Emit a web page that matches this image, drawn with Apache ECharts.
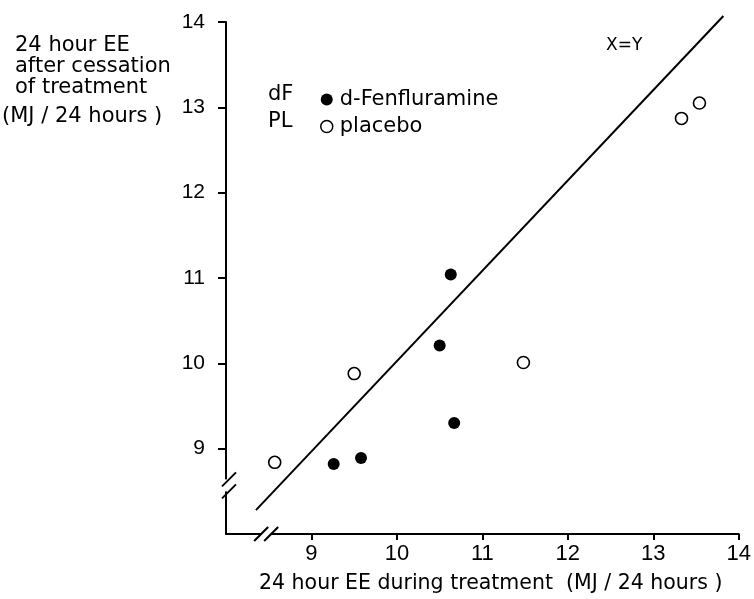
<!DOCTYPE html>
<html>
<head>
<meta charset="utf-8">
<script src="https://cdn.jsdelivr.net/npm/echarts@6/dist/echarts.min.js"></script>
<style>
html,body{margin:0;padding:0;background:#fff;}
#chart{width:754px;height:599px;}
</style>
</head>
<body>
<div id="chart"></div>
<script>
// ---- data ----
const xTicks = [9, 10, 11, 12, 13, 14];
const yTicks = [9, 10, 11, 12, 13, 14];
const dfX = [10.63, 10.50, 10.67, 9.26, 9.58];
const dfY = [11.04, 10.21, 9.30, 8.82, 8.89];
const plX = [8.57, 9.50, 11.48, 13.33, 13.54];
const plY = [8.84, 9.88, 10.01, 12.87, 13.05];
const lineX = [8.35, 13.82];
const lineY = [8.28, 14.07];
const seriesNames = ['d-Fenfluramine', 'placebo'];
const seriesCodes = ['dF', 'PL'];
const yTitle = ['24 hour EE', 'after cessation', 'of treatment', '(MJ / 24 hours )'];
const xTitle = '24 hour EE during treatment  (MJ / 24 hours )';
const lineLabel = 'X=Y';
const xBreak = 8.47, yBreak = 8.57;

const FONT = 'DejaVu Sans';
const TICKFONT = 'Liberation Sans';
const zip = (a, b) => a.map((v, i) => [v, b[i]]);

const chart = echarts.init(document.getElementById('chart'), null, {renderer: 'canvas'});
const axisCommon = {
  type: 'value', min: 8, max: 14, interval: 1,
  splitLine: {show: false},
  axisLine: {show: true, lineStyle: {color: '#000', width: 2}},
  axisTick: {show: true, customValues: xTicks, length: 6, lineStyle: {color: '#000', width: 2}},
  axisLabel: {customValues: xTicks, color: '#000', fontFamily: TICKFONT, fontSize: 21}
};
const option = {
  animation: false,
  backgroundColor: '#fff',
  grid: {left: 226, right: 9, top: 22, bottom: 65},
  xAxis: Object.assign({}, axisCommon, {
    axisLabel: Object.assign({}, axisCommon.axisLabel, {margin: 9, fontSize: 22})
  }),
  yAxis: Object.assign({}, axisCommon, {
    axisTick: Object.assign({}, axisCommon.axisTick, {customValues: yTicks, length: 8}),
    axisLabel: Object.assign({}, axisCommon.axisLabel, {customValues: yTicks, margin: 21})
  }),
  legend: {
    left: 315, top: 84, orient: 'vertical', itemGap: 6,
    itemWidth: 12, itemHeight: 12,
    textStyle: {color: '#000', fontFamily: FONT, fontSize: 21, padding: [0, 0, 0, 2]},
    data: [
      {name: seriesNames[0], icon: 'circle', itemStyle: {color: '#000', opacity: 1}},
      {name: seriesNames[1], icon: 'circle', itemStyle: {color: '#fff', borderColor: '#000', borderWidth: 1.5, opacity: 1}}
    ]
  },
  series: [
    {
      name: seriesNames[0], type: 'scatter', data: zip(dfX, dfY),
      symbol: 'circle', symbolSize: 12,
      itemStyle: {color: '#000', opacity: 1}
    },
    {
      name: seriesNames[1], type: 'scatter', data: zip(plX, plY),
      symbol: 'circle', symbolSize: 12,
      itemStyle: {color: '#fff', borderColor: '#000', borderWidth: 1.6, opacity: 1}
    },
    {
      name: lineLabel, type: 'line', data: zip(lineX, lineY),
      showSymbol: false, symbol: 'none', clip: false,
      lineStyle: {color: '#000', width: 2}
    }
  ]
};
chart.setOption(option);

// text + axis break decorations
const px = (x, y) => chart.convertToPixel({gridIndex: 0}, [x, y]);
const o = px(8, 8);
const yb = px(8, yBreak)[1];
const xb = px(xBreak, 8)[0];
const ls = {stroke: '#000', lineWidth: 2};
const graphics = [];
yTitle.forEach((t, i) => {
  graphics.push({type: 'text', left: i === 3 ? 2 : 15, top: [35, 56, 77, 106][i],
    style: {text: t, fill: '#000', font: '21px "' + FONT + '"'}});
});
graphics.push({type: 'text', left: 259, top: 573, style: {text: xTitle, fill: '#000', font: '20.5px "' + FONT + '"'}});
graphics.push({type: 'text', left: 606, top: 37, style: {text: lineLabel, fill: '#000', font: '17px "' + FONT + '"'}});
seriesCodes.forEach((t, i) => {
  graphics.push({type: 'text', left: 268, top: 84 + i * 27, style: {text: t, fill: '#000', font: '21px "' + FONT + '"'}});
});
// y-axis break
graphics.push({type: 'rect', shape: {x: o[0] - 3, y: yb - 6, width: 6, height: 12}, style: {fill: '#fff'}, z: 100});
graphics.push({type: 'line', shape: {x1: o[0] - 4, y1: yb + 1, x2: o[0] + 10, y2: yb - 13}, style: ls, z: 101});
graphics.push({type: 'line', shape: {x1: o[0] - 4, y1: yb + 13, x2: o[0] + 10, y2: yb - 1}, style: ls, z: 101});
// x-axis break
graphics.push({type: 'rect', shape: {x: xb - 5, y: o[1] - 3, width: 10, height: 6}, style: {fill: '#fff'}, z: 100});
graphics.push({type: 'line', shape: {x1: xb - 12, y1: o[1] + 7, x2: xb + 2, y2: o[1] - 7}, style: ls, z: 101});
graphics.push({type: 'line', shape: {x1: xb - 2, y1: o[1] + 7, x2: xb + 12, y2: o[1] - 7}, style: ls, z: 101});
chart.setOption({graphic: graphics});
</script>
</body>
</html>
